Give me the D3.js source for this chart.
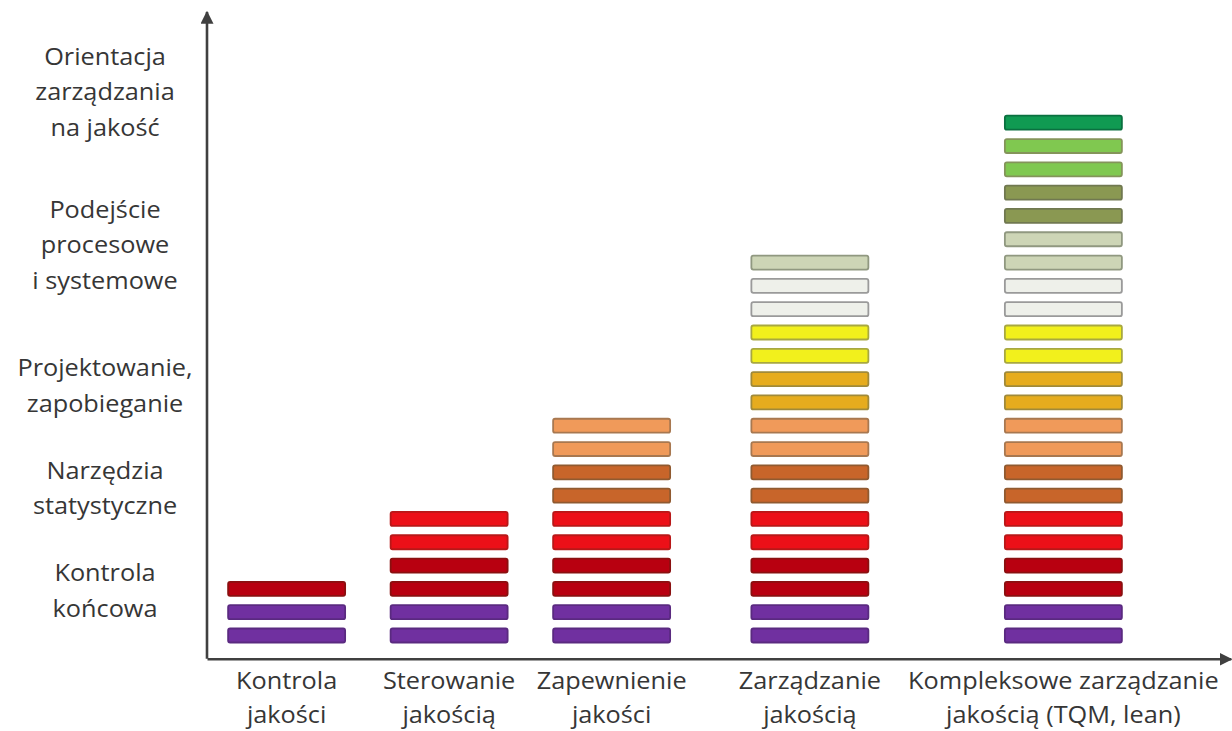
<!DOCTYPE html>
<html>
<head>
<meta charset="utf-8">
<script src="https://cdn.jsdelivr.net/npm/d3@7"></script>
<style>
  body { margin: 0; background: #fff; }
  text { font-family: "Open Sans", sans-serif; fill: #363636; }
</style>
</head>
<body>
<div id="chart"></div>
<script>
// stages of quality management (x axis), bottom-to-top layers in each column
var stageLines = [
  ["Kontrola", "jakości"],
  ["Sterowanie", "jakością"],
  ["Zapewnienie", "jakości"],
  ["Zarządzanie", "jakością"],
  ["Kompleksowe zarządzanie", "jakością (TQM, lean)"]
];
var stagePos = [0.49, 1.49, 2.49, 3.71, 5.27];
var layerCounts = [3, 6, 10, 17, 23];

// y axis levels (in layer units)
var levelLines = [
  ["Kontrola", "końcowa"],
  ["Narzędzia", "statystyczne"],
  ["Projektowanie,", "zapobieganie"],
  ["Podejście", "procesowe", "i systemowe"],
  ["Orientacja", "zarządzania", "na jakość"]
];
var levelPos = [1.9, 6.3, 10.7, 16.75, 23.3];

// layer palette, bottom to top
var layerFill = ["#7030a0", "#7030a0", "#b80010", "#b80010", "#ec1018", "#ec1018",
  "#c8652a", "#c8652a", "#f09a5a", "#f09a5a", "#e6ac1e", "#e6ac1e",
  "#f2f01c", "#f2f01c", "#eef0ea", "#eef0ea", "#cdd5b6", "#cdd5b6",
  "#8a9852", "#8a9852", "#80c850", "#80c850", "#109a52"];
var layerStroke = ["#5a2a80", "#5a2a80", "#8a1010", "#8a1010", "#b81818", "#b81818",
  "#905a30", "#905a30", "#a87850", "#a87850", "#a08a3a", "#a08a3a",
  "#a8a840", "#a8a840", "#9a9a9a", "#9a9a9a", "#909880", "#909880",
  "#707850", "#707850", "#84945a", "#84945a", "#0a7040"];

var width = 1232, height = 731;

var svg = d3.select("#chart").append("svg")
  .attr("width", width)
  .attr("height", height);

var xScale = d3.scaleLinear().domain([0, 6.3]).range([207, 1230.75]);
var yScale = d3.scaleLinear().domain([-1, 26.75]).range([658.8, 12]);

var defs = svg.append("defs");
defs.append("marker")
  .attr("id", "arrow")
  .attr("viewBox", "0 0 10 10")
  .attr("refX", 9).attr("refY", 5)
  .attr("markerWidth", 5).attr("markerHeight", 5)
  .attr("markerUnits", "strokeWidth")
  .attr("orient", "auto")
  .append("path")
  .attr("d", "M0,0 L10,5 L0,10 z")
  .attr("fill", "#404040");

// bars: one group per stage, one rect per layer
var barW = xScale(0.72) - xScale(0);
var stages = stagePos.map(function(p, i) {
  return {pos: p, layers: d3.range(layerCounts[i])};
});

var cols = svg.selectAll(".stage")
  .data(stages)
  .enter()
  .append("g")
  .attr("class", "stage");

cols.selectAll("rect")
  .data(function(d) { return d.layers.map(function(l) { return {pos: d.pos, layer: l}; }); })
  .enter()
  .append("rect")
  .attr("x", function(d) { return xScale(d.pos) - barW / 2; })
  .attr("y", function(d) { return yScale(d.layer + 0.3); })
  .attr("width", barW)
  .attr("height", function(d) { return yScale(d.layer - 0.3) - yScale(d.layer + 0.3); })
  .attr("rx", 2)
  .attr("fill", function(d) { return layerFill[d.layer]; })
  .attr("stroke", function(d) { return layerStroke[d.layer]; })
  .attr("stroke-width", 1.8);

// axes (only the domain lines, with arrow heads)
var xAxis = svg.append("g")
  .attr("transform", "translate(0," + yScale(-1) + ")")
  .call(d3.axisBottom(xScale).ticks(0).tickSizeOuter(0));
var yAxis = svg.append("g")
  .attr("transform", "translate(" + xScale(0) + ",0)")
  .call(d3.axisLeft(yScale).ticks(0).tickSizeOuter(0));
yAxis.select(".domain").attr("d", "M0," + yScale(-1) + "V" + yScale(26.75));

[xAxis, yAxis].forEach(function(a) {
  a.select(".domain")
    .attr("stroke", "#404040")
    .attr("stroke-width", 2.6)
    .attr("marker-end", "url(#arrow)");
});

// stage labels under the x axis (text is a little wide in the original)
var fs = 23, stretch = 1.1;
svg.selectAll(".stage-label")
  .data(stageLines)
  .enter()
  .append("text")
  .attr("class", "stage-label")
  .attr("text-anchor", "middle")
  .attr("font-size", fs)
  .attr("transform", function(d, i) {
    return "translate(" + xScale(stagePos[i]) + ",689) scale(" + stretch + ",1)";
  })
  .selectAll("tspan")
  .data(function(d) { return d; })
  .enter()
  .append("tspan")
  .attr("x", 0)
  .attr("y", function(d, i) { return i * 34.5; })
  .text(function(d) { return d; });

// level labels left of the y axis
var lineH = 35.5;
svg.selectAll(".level-label")
  .data(levelLines)
  .enter()
  .append("text")
  .attr("class", "level-label")
  .attr("text-anchor", "middle")
  .attr("font-size", fs)
  .attr("transform", function(d, i) {
    var top = yScale(levelPos[i]) - (d.length - 1) * lineH / 2 + 8;
    return "translate(105," + top + ") scale(" + stretch + ",1)";
  })
  .selectAll("tspan")
  .data(function(d) { return d; })
  .enter()
  .append("tspan")
  .attr("x", 0)
  .attr("y", function(d, i) { return i * lineH; })
  .text(function(d) { return d; });
</script>
</body>
</html>
